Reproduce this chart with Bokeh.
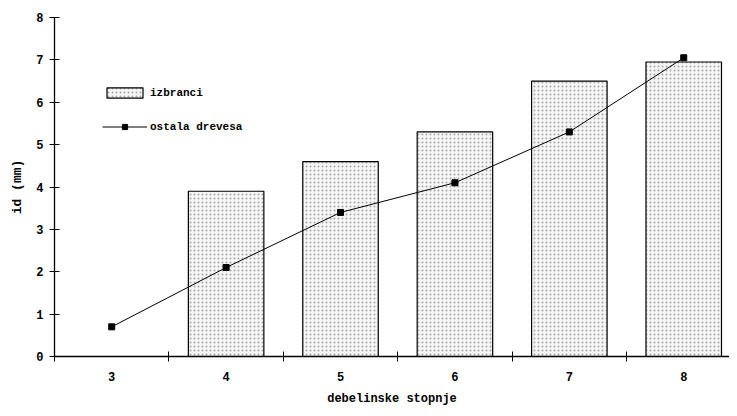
from bokeh.plotting import figure
from bokeh.models import FixedTicker, Range1d, ColumnDataSource
from bokeh.embed import file_html
from bokeh.resources import INLINE

classes = [3, 4, 5, 6, 7, 8]
bar_classes = [4, 5, 6, 7, 8]
izbranci = [3.9, 4.6, 5.3, 6.5, 6.95]
ostala = [0.7, 2.1, 3.4, 4.1, 5.3, 7.05]
x_labels = ["3", "4", "5", "6", "7", "8"]
y_ticks = [0, 1, 2, 3, 4, 5, 6, 7, 8]

FONT = "Liberation Mono"

p = figure(width=729, height=408, output_backend="svg", toolbar_location=None,
           x_range=Range1d(2.5, 8.40), y_range=Range1d(0, 8),
           min_border_left=54, min_border_right=0, min_border_top=17, min_border_bottom=50)
p.outline_line_color = None
p.xgrid.visible = False
p.ygrid.visible = False

bars = ColumnDataSource(dict(x=bar_classes, top=izbranci))
p.vbar(x="x", top="top", bottom=0, width=0.66, source=bars,
       fill_color="#f5f5f5", line_color="black", line_width=1.2,
       hatch_pattern="dot", hatch_color="#a8a8a8", hatch_scale=4, hatch_weight=0.6,
       legend_label="izbranci")

pts = ColumnDataSource(dict(x=classes, y=ostala))
p.line(x="x", y="y", source=pts, line_color="black", line_width=1, legend_label="ostala drevesa")
p.scatter(x="x", y="y", source=pts, marker="square", size=6, color="black",
          legend_label="ostala drevesa")

# x axis: labels at class centres, ticks at class boundaries
p.xaxis.ticker = FixedTicker(ticks=classes, minor_ticks=[c - 0.5 for c in classes])
p.xaxis.major_label_overrides = {c: l for c, l in zip(classes, x_labels)}
p.xaxis.major_tick_in = 0
p.xaxis.major_tick_out = 0
p.xaxis.minor_tick_in = 5
p.xaxis.minor_tick_out = 5
p.xaxis.major_label_standoff = 10
p.xaxis.axis_label = "debelinske stopnje"
p.xaxis.axis_label_standoff = 8

p.yaxis.ticker = FixedTicker(ticks=y_ticks, minor_ticks=[])
p.yaxis.major_tick_in = 5
p.yaxis.major_tick_out = 5
p.yaxis.major_label_standoff = 6
p.yaxis.axis_label = "id (mm)"
p.yaxis.axis_label_standoff = 8

for ax in (p.xaxis, p.yaxis):
    ax.axis_line_color = "black"
    ax.axis_line_width = 1.3
    ax.major_tick_line_color = "black"
    ax.minor_tick_line_color = "black"
    ax.major_label_text_font = FONT
    ax.major_label_text_font_style = "bold"
    ax.major_label_text_font_size = "12px"
    ax.major_label_text_color = "black"
    ax.axis_label_text_font = FONT
    ax.axis_label_text_font_style = "bold"
    ax.axis_label_text_font_size = "12px"
    ax.axis_label_text_color = "black"
p.yaxis.axis_label_text_font_size = "13px"

lg = p.legend[0]
lg.location = (48, 223)
lg.border_line_color = None
lg.background_fill_alpha = 0
lg.padding = 0
lg.margin = 0
lg.glyph_width = 45
lg.glyph_height = 13
lg.label_height = 13
lg.spacing = 21
lg.label_standoff = 3
lg.label_text_font = FONT
lg.label_text_font_style = "bold"
lg.label_text_font_size = "11px"
lg.label_text_color = "black"

open("out.html", "w").write(file_html(p, INLINE))
